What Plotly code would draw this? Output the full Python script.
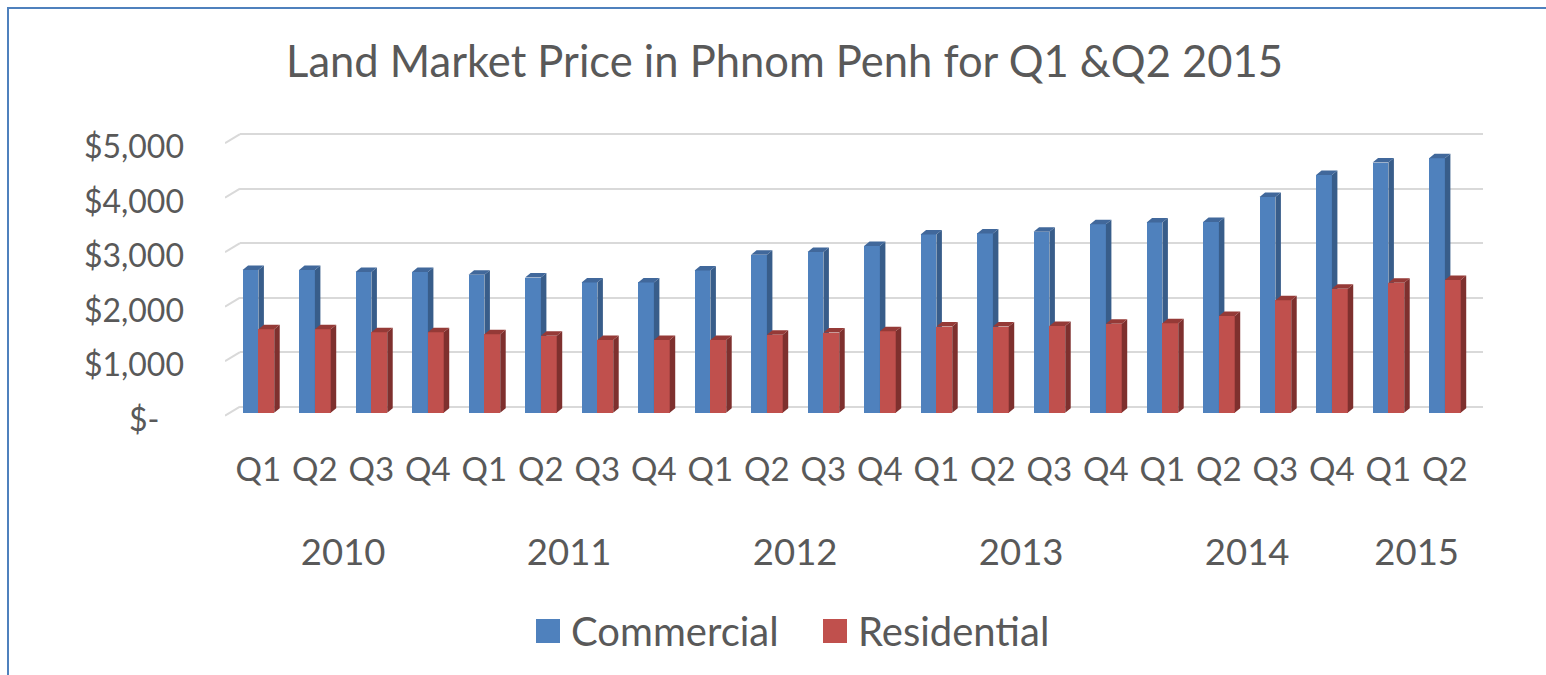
import plotly.graph_objects as go

# ---- data -------------------------------------------------------------
quarters = ["Q1", "Q2", "Q3", "Q4"] * 5 + ["Q1", "Q2"]
years = ["2010"] * 4 + ["2011"] * 4 + ["2012"] * 4 + ["2013"] * 4 + ["2014"] * 4 + ["2015"] * 2
commercial = [2620, 2620, 2580, 2580, 2530, 2480, 2390, 2390, 2610, 2900, 2950,
              3060, 3270, 3290, 3320, 3460, 3490, 3500, 3960, 4360, 4590, 4670]
residential = [1530, 1530, 1475, 1475, 1440, 1410, 1335, 1335, 1335, 1430, 1470,
               1495, 1580, 1580, 1590, 1630, 1640, 1775, 2065, 2275, 2385, 2435]
y_ticks = [0, 1000, 2000, 3000, 4000, 5000]
y_tick_text = ["$-\u00a0\u00a0\u00a0", "$1,000", "$2,000", "$3,000", "$4,000", "$5,000"]
series = ["Commercial", "Residential"]

# ---- layout geometry (pixels) -----------------------------------------
W, H = 1546, 675
PLOT_TOP, PLOT_BOTTOM = 130, 425
PX_PER_VAL = 54.5 / 1000          # vertical pixels per dollar
CAT0_PX, CAT_PX = 258.4, 56.5     # first category centre, category pitch
FRONT_LEFT, BACK_LEFT, RIGHT = 225, 240, 1483
BACK_ZERO, FRONT_ZERO = 406.7, 412.7
DEPTH_X, DEPTH_Y = 5.5 / CAT_PX, 4.5 / PX_PER_VAL   # bar side/top depth
BAR_W = 0.28

FONT = "Lato"
GREY = "#595959"
BLUE, BLUE_SIDE, BLUE_TOP = "#4f81bd", "#385d8a", "#41689b"
RED, RED_SIDE, RED_TOP = "#c0504d", "#7e302e", "#953a37"


def y_range(zero_px):
    return [-(PLOT_BOTTOM - zero_px) / PX_PER_VAL, (zero_px - PLOT_TOP) / PX_PER_VAL]


def x_range(left_px, right_px):
    return [(left_px - CAT0_PX) / CAT_PX, (right_px - CAT0_PX) / CAT_PX]


y_dom = [1 - PLOT_BOTTOM / H, 1 - PLOT_TOP / H]
idx = list(range(len(quarters)))

# year label positions: centre of each year's quarters
year_order = list(dict.fromkeys(years))
year_pos = [sum(i for i in idx if years[i] == y) / years.count(y) for y in year_order]


def faces(values, offset):
    sx, sy, tx, ty = [], [], [], []
    for i, v in zip(idx, values):
        left = i + offset
        right = left + BAR_W
        sx += [right, right + DEPTH_X, right + DEPTH_X, right, right, None]
        sy += [0, DEPTH_Y, v + DEPTH_Y, v, 0, None]
        tx += [left, left + DEPTH_X, right + DEPTH_X, right, left, None]
        ty += [v, v + DEPTH_Y, v + DEPTH_Y, v, v, None]
    return sx, sy, tx, ty


fig = go.Figure()

# left edge of the 3D side wall for each gridline
dx, dy = [], []
back_shift = (FRONT_ZERO - BACK_ZERO) / PX_PER_VAL
floor_drop = 9 / PX_PER_VAL
for g in y_ticks:
    dx += [x_range(FRONT_LEFT, RIGHT)[0], x_range(BACK_LEFT, RIGHT)[0], None]
    dy += [g + back_shift - floor_drop, g + back_shift, None]
fig.add_trace(go.Scatter(x=dx, y=dy, mode="lines", line=dict(color="#d9d9d9", width=2),
                         xaxis="x2", yaxis="y2", hoverinfo="skip", showlegend=False))

for vals, off, yax, c_front, c_side, c_top, name in [
        (commercial, -BAR_W, "y2", BLUE, BLUE_SIDE, BLUE_TOP, series[0]),
        (residential, 0.0, "y3", RED, RED_SIDE, RED_TOP, series[1])]:
    fig.add_trace(go.Bar(x=idx, y=vals, offset=off, width=BAR_W, name=name,
                         marker=dict(color=c_front, line=dict(width=0)),
                         xaxis="x2", yaxis=yax, showlegend=False))
    sx, sy, tx, ty = faces(vals, off)
    fig.add_trace(go.Scatter(x=sx, y=sy, fill="toself", fillcolor=c_side, mode="lines",
                             line=dict(width=0, color=c_side), xaxis="x2", yaxis=yax,
                             hoverinfo="skip", showlegend=False))
    fig.add_trace(go.Scatter(x=tx, y=ty, fill="toself", fillcolor=c_top, mode="lines",
                             line=dict(width=0, color=c_top), xaxis="x2", yaxis=yax,
                             hoverinfo="skip", showlegend=False))

# back wall subplot carrying the gridlines, $ labels and year labels
fig.add_trace(go.Scatter(x=[None], y=[None], xaxis="x", yaxis="y", showlegend=False))

fig.update_layout(
    width=W, height=H,
    margin=dict(l=0, r=0, t=0, b=0, autoexpand=False),
    paper_bgcolor="white", plot_bgcolor="rgba(0,0,0,0)",
    font=dict(family=FONT, color=GREY),
    showlegend=False,
    title=dict(text="Land Market Price in Phnom Penh for Q1 &Q2 2015",
               x=784.5 / W, xanchor="center", y=1 - 62 / H, yanchor="middle",
               font=dict(size=43.5, color=GREY, family=FONT)),
    xaxis=dict(domain=[BACK_LEFT / W, RIGHT / W], range=x_range(BACK_LEFT, RIGHT),
               tickvals=year_pos, ticktext=year_order, showgrid=False, zeroline=False,
               showline=False, ticks="", ticklabelstandoff=102, automargin=False,
               tickfont=dict(size=36.5, color=GREY), anchor="y"),
    yaxis=dict(domain=y_dom, range=y_range(BACK_ZERO), tickvals=y_ticks,
               ticktext=y_tick_text, showgrid=True, gridcolor="#d9d9d9", gridwidth=2,
               zeroline=True, zerolinecolor="#d9d9d9", zerolinewidth=2,
               showline=False, ticks="", ticklabelstandoff=55, ticklabelshift=13,
               automargin=False, tickfont=dict(size=32, color=GREY), anchor="x"),
    xaxis2=dict(domain=[FRONT_LEFT / W, RIGHT / W], range=x_range(FRONT_LEFT, RIGHT),
                tickvals=idx, ticktext=quarters, showgrid=False, zeroline=False,
                showline=False, ticks="", ticklabelstandoff=22, automargin=False,
                tickfont=dict(size=33, color=GREY), anchor="y2"),
    yaxis2=dict(domain=y_dom, range=y_range(FRONT_ZERO), visible=False, anchor="x2",
                automargin=False),
    yaxis3=dict(domain=y_dom, range=y_range(FRONT_ZERO), visible=False,
                overlaying="y2", anchor="x2", automargin=False),
    bargap=0,
)

# legend: coloured squares with their series names
legend_items = [(536, series[0], BLUE), (823, series[1], RED)]
for x0, name, col in legend_items:
    fig.add_shape(type="rect", xref="paper", yref="paper",
                  x0=x0 / W, x1=(x0 + 24) / W, y0=1 - 643 / H, y1=1 - 619 / H,
                  fillcolor=col, line=dict(width=0))
    fig.add_annotation(text=name, xref="paper", yref="paper", x=(x0 + 33) / W,
                       y=1 - 631 / H, xanchor="left", yanchor="middle", showarrow=False,
                       font=dict(size=40, color=GREY, family=FONT))

# chart frame
fig.add_shape(type="rect", xref="paper", yref="paper", x0=8 / W, x1=1.02,
              y0=-0.02, y1=1 - 8 / H, line=dict(color="#4f81bd", width=2),
              fillcolor="rgba(0,0,0,0)")

fig.write_html("out.html")
